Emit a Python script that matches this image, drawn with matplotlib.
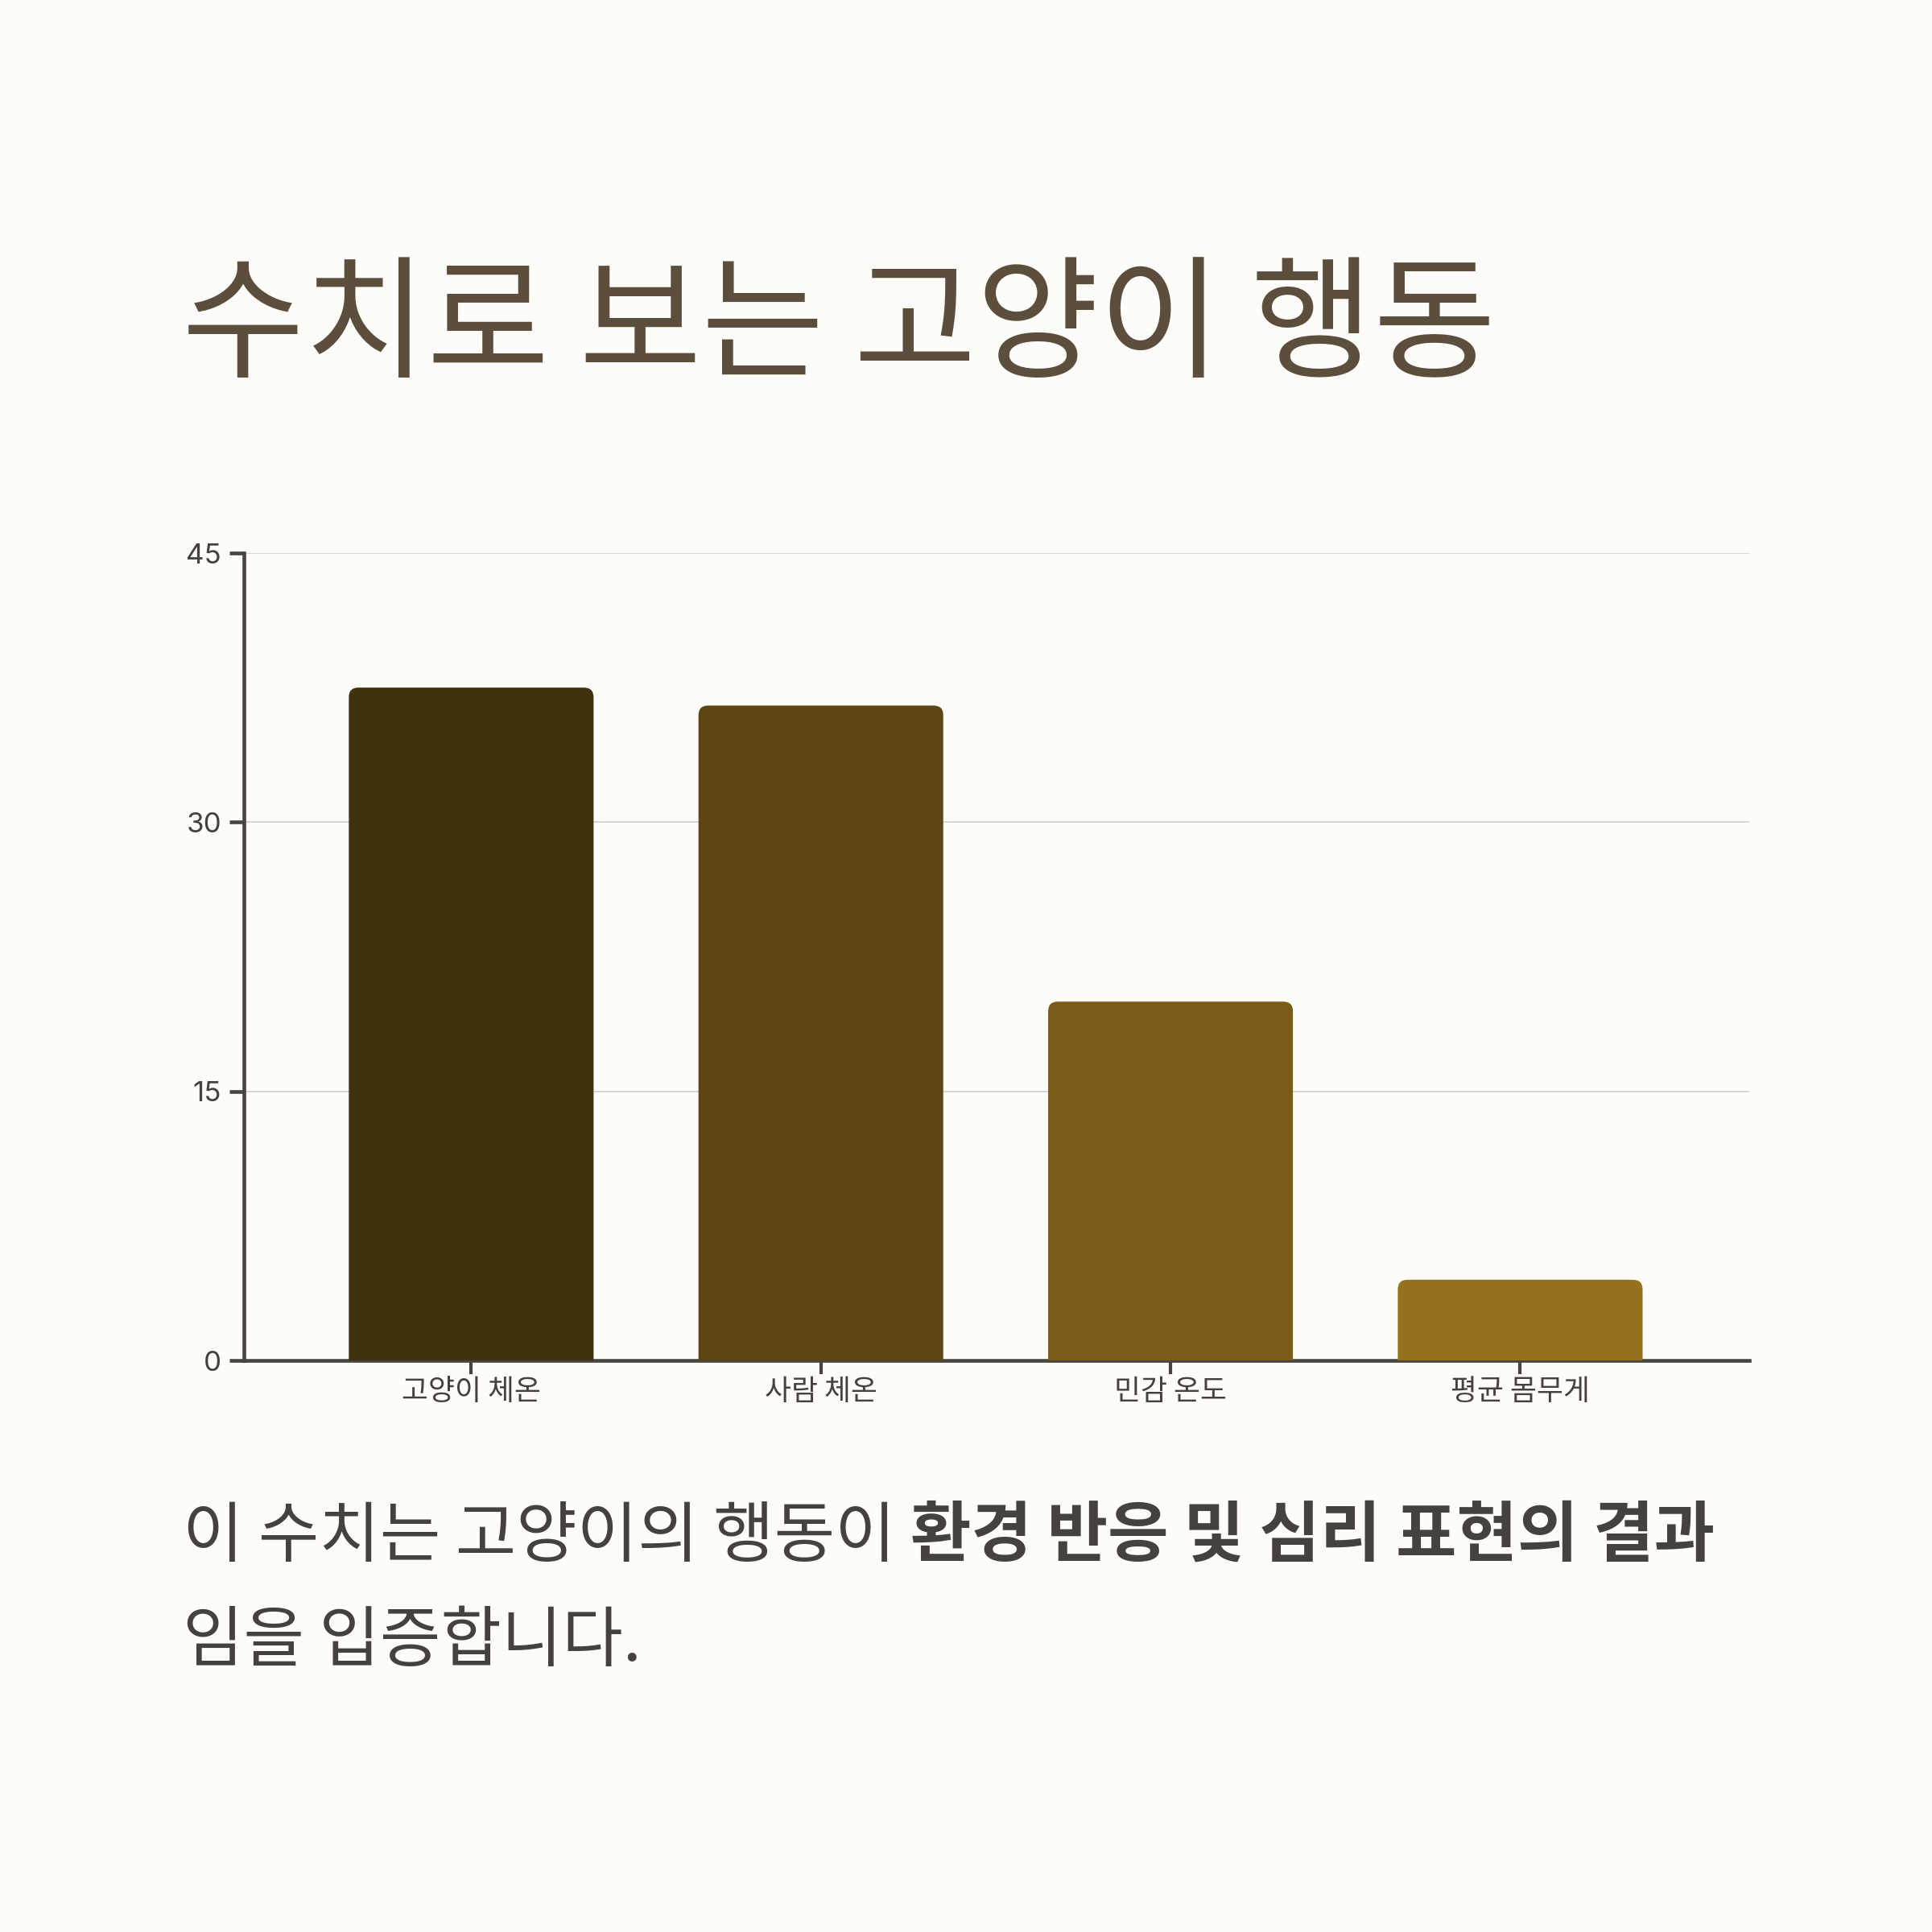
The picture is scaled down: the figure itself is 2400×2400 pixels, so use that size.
import matplotlib
matplotlib.use("Agg")
import matplotlib.pyplot as plt
from matplotlib.patches import FancyBboxPatch

categories = ["고양이 체온", "사람 체온", "민감 온도", "평균 몸무게"]
values = [37.5, 36.5, 20, 4.5]
bar_colors = ["#41320f", "#5c4714", "#7a5c18", "#94711e"]
yticks = [0, 15, 30, 45]
title = "수치로 보는 고양이 행동"
body_regular = "이 수치는 고양이의 행동이 "
body_bold = "환경 반응 및 심리 표현의 결과"
body_line2 = "임을 입증합니다."

BG = "#fdfcf8"
AXC = "#474440"
TXT = "#45423e"

plt.rcParams['font.family'] = ['Noto Sans CJK KR', 'DejaVu Sans']

fig = plt.figure(figsize=(8, 8), dpi=300, facecolor=BG)
ax = fig.add_axes([0.12625, 0.2958, 0.9054 - 0.12625, 0.71375 - 0.2958])
ax.set_facecolor(BG)

x = list(range(len(categories)))
bars = ax.bar(x, values, width=0.70, color=bar_colors, zorder=3)
ax.set_xlim(-0.65, 3.655)
ax.set_ylim(0, 45)

# rounded bars built from the bar geometry
fig.canvas.draw()
bb = ax.get_window_extent()
xu_per_px = (3.655 + 0.65) / bb.width
yu_per_px = 45 / bb.height
r_px = 12
for rect, c in zip(bars.patches, bar_colors):
    rect.set_visible(False)
    x0 = rect.get_x(); w = rect.get_width(); h = rect.get_height()
    p = FancyBboxPatch((x0, -2), w, h + 2,
                       boxstyle=f"round,pad=0,rounding_size={r_px * xu_per_px}",
                       mutation_aspect=yu_per_px / xu_per_px,
                       facecolor=c, edgecolor='none', zorder=3, clip_on=True)
    ax.add_patch(p)

ax.set_yticks(yticks)
ax.set_yticklabels([str(t) for t in yticks], family=['Inter', 'DejaVu Sans'],
                   fontsize=8.4, color=TXT)
ax.set_xticks(x)
ax.set_xticklabels(categories, fontsize=8.6, color=TXT)
ax.grid(axis='y', color="#d6d4d0", linewidth=0.45, zorder=0)
ax.set_axisbelow(True)
for s in ['top', 'right']:
    ax.spines[s].set_visible(False)
for s in ['left', 'bottom']:
    ax.spines[s].set_color(AXC)
    ax.spines[s].set_linewidth(1.1)
ax.tick_params(axis='y', length=4.3, width=1.1, color=AXC, pad=2.4)
ax.tick_params(axis='x', length=4.0, width=1.0, color=AXC, pad=1.0)

# title
fig.text(226 / 2400, 1 - 456 / 2400, title, fontsize=39.7, color="#5c4e3d",
         ha='left', va='baseline')

# body text
FS = 19.7
y1 = 1 - 1933 / 2400
t1 = fig.text(227 / 2400, y1, body_regular, fontsize=FS, color=TXT,
              ha='left', va='baseline')
fig.canvas.draw()
ext = t1.get_window_extent()
fig.text(ext.x1 / fig.bbox.width, y1, body_bold, fontsize=FS, color=TXT,
         fontweight='bold', ha='left', va='baseline')
fig.text(227 / 2400, 1 - 2063 / 2400, body_line2, fontsize=FS, color=TXT,
         ha='left', va='baseline')

fig.savefig("out.png", dpi=300, facecolor=BG)
